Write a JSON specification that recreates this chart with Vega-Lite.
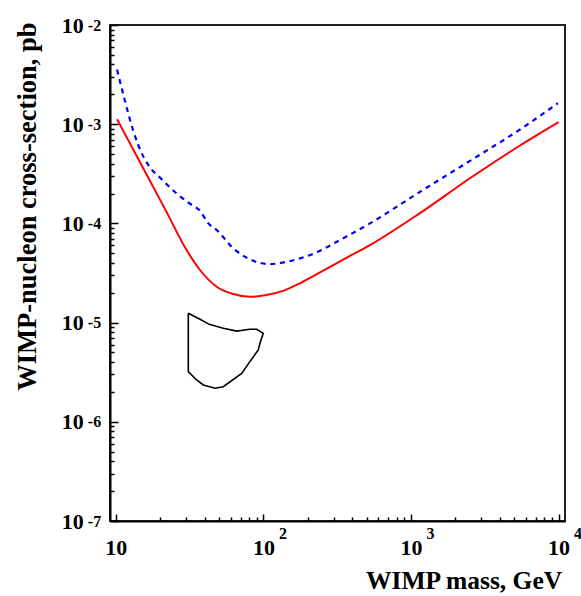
{
  "$schema": "https://vega.github.io/schema/vega-lite/v6.json",
  "autosize": "none",
  "width": 455,
  "height": 496,
  "padding": {"left": 110, "top": 25, "right": 16, "bottom": 75},
  "background": "white",
  "config": {
    "view": {"stroke": "#222222", "strokeWidth": 2},
    "axis": {"grid": false, "labelFlush": false, "labelOverlap": false, "tickColor": "black", "tickWidth": 1.5, "domainColor": "black", "domainWidth": 2, "labelColor": "black", "labelFont": "Liberation Serif", "labelFontWeight": "bold", "titleFont": "Liberation Serif", "titleFontWeight": "bold", "titleColor": "black", "zindex": 1}
  },
  "resolve": {"axis": {"x": "independent", "y": "independent"}},
  "layer": [
    {
      "data": {"values": [
        {"m": 10.2, "s": 0.00112},
        {"m": 12.5, "s": 0.000637},
        {"m": 15.4, "s": 0.000356},
        {"m": 18.5, "s": 0.000214},
        {"m": 22.1, "s": 0.00013},
        {"m": 30.2, "s": 0.0000538},
        {"m": 37.2, "s": 0.0000339},
        {"m": 48.3, "s": 0.000023},
        {"m": 62.5, "s": 0.0000194},
        {"m": 81, "s": 0.0000182},
        {"m": 105, "s": 0.000019},
        {"m": 136, "s": 0.0000209},
        {"m": 177, "s": 0.0000249},
        {"m": 235, "s": 0.0000313},
        {"m": 360, "s": 0.0000445},
        {"m": 527, "s": 0.0000604},
        {"m": 1150, "s": 0.000127},
        {"m": 2510, "s": 0.000285},
        {"m": 5480, "s": 0.00061},
        {"m": 10000, "s": 0.00105}
      ]},
      "mark": {"type": "line", "color": "#ff0000", "strokeWidth": 2, "interpolate": "monotone"},
      "encoding": {
        "x": {"field": "m", "type": "quantitative", "scale": {"type": "log", "domain": [9.14, 11050], "nice": false},
          "axis": {"orient": "bottom", "values": [10, 100, 1000, 10000], "labelExpr": "'10'", "ticks": false, "labelPadding": 26.5, "labelBaseline": "middle", "labelAlign": "center", "labelFontSize": 22,
            "title": "WIMP mass, GeV", "titleFontSize": 25.5, "titleX": 451.7, "titleY": 67.3, "titleAlign": "right", "titleBaseline": "alphabetic", "titleAngle": 0, "titleAnchor": null}},
        "y": {"field": "s", "type": "quantitative", "scale": {"type": "log", "domain": [1e-7, 0.01], "nice": false},
          "axis": {"orient": "left", "values": [1e-7, 1e-6, 1e-5, 0.0001, 0.001, 0.01], "labelExpr": "'10'", "ticks": false, "labelPadding": 26.7, "labelDy": 3, "labelBaseline": "middle", "labelAlign": "right", "labelFontSize": 22,
            "title": "WIMP-nucleon cross-section, pb", "titleFontSize": 26.5, "titleX": -75, "titleY": -3, "titleAlign": "right", "titleBaseline": "alphabetic", "titleAngle": -90, "titleAnchor": null}}
      }
    },
    {
      "data": {"values": [
        {"m": 10.2, "s": 0.00356},
        {"m": 11.5, "s": 0.00175},
        {"m": 13.1, "s": 0.00087},
        {"m": 15.4, "s": 0.000469},
        {"m": 17.5, "s": 0.00035},
        {"m": 19.9, "s": 0.00029},
        {"m": 25.9, "s": 0.0002},
        {"m": 31.8, "s": 0.000158},
        {"m": 37.2, "s": 0.000134},
        {"m": 42.4, "s": 0.0001},
        {"m": 48.3, "s": 0.0000857},
        {"m": 62.5, "s": 0.000056},
        {"m": 81.1, "s": 0.0000434},
        {"m": 111, "s": 0.0000389},
        {"m": 144, "s": 0.000041},
        {"m": 177, "s": 0.0000444},
        {"m": 236, "s": 0.000052},
        {"m": 330, "s": 0.000068},
        {"m": 527, "s": 0.0001},
        {"m": 1150, "s": 0.000208},
        {"m": 2510, "s": 0.000427},
        {"m": 5480, "s": 0.000885},
        {"m": 9900, "s": 0.00163}
      ]},
      "mark": {"type": "line", "color": "#0000ff", "strokeWidth": 2.2, "strokeDash": [5, 4.7], "interpolate": "monotone"},
      "encoding": {
        "x": {"field": "m", "type": "quantitative", "scale": {"type": "log", "domain": [9.14, 11050], "nice": false},
          "axis": {"orient": "bottom", "offset": -4, "values": [20, 30, 40, 50, 60, 70, 80, 90, 200, 300, 400, 500, 600, 700, 800, 900, 2000, 3000, 4000, 5000, 6000, 7000, 8000, 9000], "tickSize": 4, "labels": false, "domain": false, "title": null}},
        "y": {"field": "s", "type": "quantitative", "scale": {"type": "log", "domain": [1e-7, 0.01], "nice": false},
          "axis": {"orient": "left", "offset": -4, "values": [2e-7, 3e-7, 4e-7, 5e-7, 6e-7, 7e-7, 8e-7, 9e-7, 2e-6, 3e-6, 4e-6, 5e-6, 6e-6, 7e-6, 8e-6, 9e-6, 2e-5, 3e-5, 4e-5, 5e-5, 6e-5, 7e-5, 8e-5, 9e-5, 0.0002, 0.0003, 0.0004, 0.0005, 0.0006, 0.0007, 0.0008, 0.0009, 0.002, 0.003, 0.004, 0.005, 0.006, 0.007, 0.008, 0.009], "tickSize": 4, "labels": false, "domain": false, "title": null}}
      }
    },
    {
      "data": {"values": [
        {"i": 0, "m": 31.0, "s": 0.0000124},
        {"i": 1, "m": 37.2, "s": 0.0000108},
        {"i": 2, "m": 43.0, "s": 0.0000096},
        {"i": 3, "m": 53.5, "s": 0.00000877},
        {"i": 4, "m": 65.9, "s": 0.0000082},
        {"i": 5, "m": 81, "s": 0.00000857},
        {"i": 6, "m": 90.1, "s": 0.00000857},
        {"i": 7, "m": 99.8, "s": 0.0000078},
        {"i": 8, "m": 94.8, "s": 0.00000618},
        {"i": 9, "m": 92.4, "s": 0.0000053},
        {"i": 10, "m": 81, "s": 0.00000404},
        {"i": 11, "m": 71.3, "s": 0.00000308},
        {"i": 12, "m": 53.5, "s": 0.00000226},
        {"i": 13, "m": 47.0, "s": 0.00000218},
        {"i": 14, "m": 39.2, "s": 0.00000235},
        {"i": 15, "m": 35.3, "s": 0.00000264},
        {"i": 16, "m": 31.0, "s": 0.0000032},
        {"i": 17, "m": 31.0, "s": 0.0000124}
      ]},
      "mark": {"type": "line", "color": "black", "strokeWidth": 1.6, "interpolate": "linear"},
      "encoding": {
        "order": {"field": "i", "type": "quantitative"},
        "x": {"field": "m", "type": "quantitative", "scale": {"type": "log", "domain": [9.14, 11050], "nice": false},
          "axis": {"orient": "bottom", "offset": -7, "values": [10, 100, 1000, 10000], "labelExpr": "datum.value == 10 ? '' : '' + round(log(datum.value) / LN10)", "tickSize": 7, "domain": false, "labelPadding": 12.5, "labelOffset": 15, "labelBaseline": "middle", "labelAlign": "left", "labelFontSize": 16, "title": null}},
        "y": {"field": "s", "type": "quantitative", "scale": {"type": "log", "domain": [1e-7, 0.01], "nice": false},
          "axis": {"orient": "left", "offset": -8, "values": [1e-7, 1e-6, 1e-5, 0.0001, 0.001, 0.01], "labelExpr": "'-' + round(-log(datum.value) / LN10)", "tickSize": 8, "domain": false, "labelPadding": 22.7, "labelDy": -7, "labelBaseline": "middle", "labelAlign": "left", "labelFontSize": 16, "title": null}}
      }
    }
  ]
}
